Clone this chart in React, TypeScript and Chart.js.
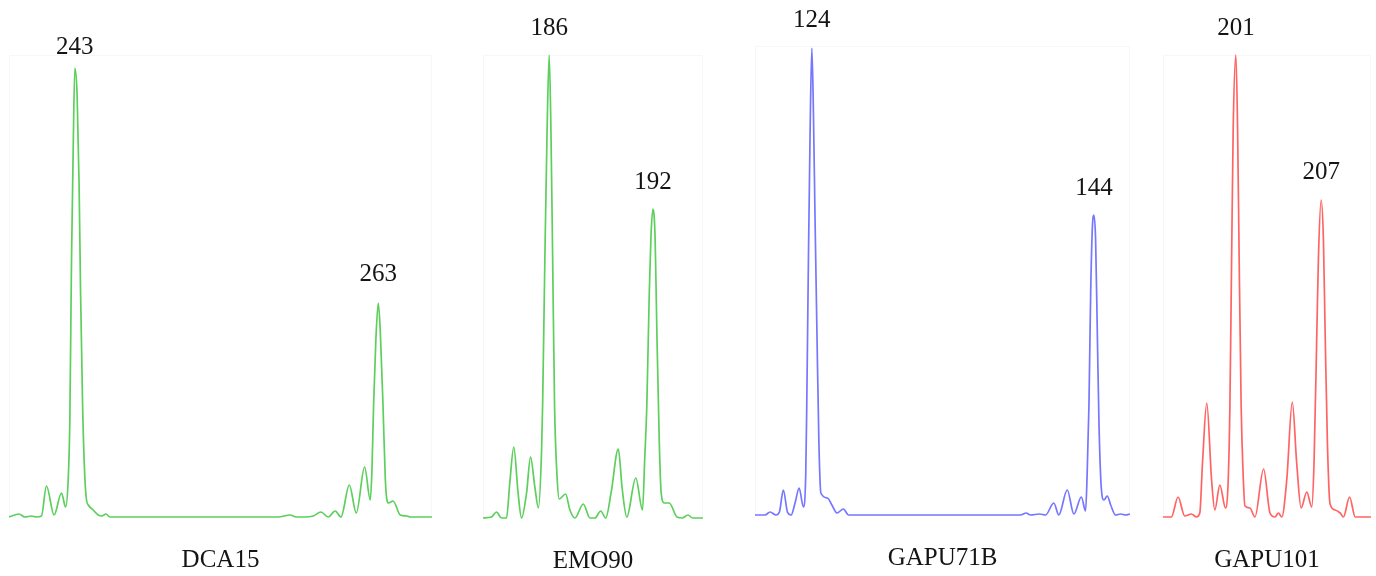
import React, { useEffect, useRef } from "react";
import { Chart, registerables } from "chart.js";

Chart.register(...registerables);

// ---------- data ----------
const markerNames = ["DCA15", "EMO90", "GAPU71B", "GAPU101"];

// DCA15 trace (size in bp, relative signal)
const dca15Size = [
  238.66, 239.32, 239.7, 240.14, 240.47, 240.8, 241.13, 241.63, 242.12, 242.39,
  242.56, 242.67, 242.78, 242.89, 243.0, 243.15, 243.28, 243.38, 243.51, 243.66,
  243.77, 243.89, 244.21, 244.54, 244.78, 245.05, 245.31,
  256.4, 257.19, 257.59, 258.18, 258.71, 259.22, 259.7, 260.16, 260.54,
  261.09, 261.55, 262.1, 262.47, 262.58, 262.69, 262.84, 263.0, 263.13, 263.31,
  263.46, 263.57, 263.68, 263.97, 264.45, 264.89, 265.11, 266.54,
];
const dca15Signal = [
  0, 3, 0, 1, 0, 1, 31, 2, 24, 10,
  37, 97, 257, 367, 449, 422, 332, 222, 112, 39,
  17, 12, 7, 2, 1, 3, 0,
  0, 2, 0, 0, 1, 5, 0, 6, 0,
  32, 4, 50, 17, 46, 112, 177, 214, 186, 112,
  39, 17, 14, 16, 2, 1, 0, 0,
];
const dca15Peaks = [243, 263];

// EMO90 trace
const emo90Size = [
  182.17, 182.66, 182.95, 183.24, 183.53, 183.72, 183.95, 184.2, 184.4, 184.69,
  184.92, 185.17, 185.38, 185.56, 185.62, 185.75, 185.88, 186.0, 186.1, 186.2,
  186.31, 186.46, 186.58, 186.95, 187.2, 187.49, 187.97, 188.36, 188.65, 188.98,
  189.27, 189.58, 190.0, 190.22, 190.49, 191.01, 191.4, 191.53, 191.65, 191.79,
  191.89, 192.0, 192.13, 192.23, 192.37, 192.48, 192.66, 192.95, 193.39, 193.7,
  194.03, 194.3, 194.9,
];
const emo90Signal = [
  0, 1, 6, 0, 0, 35, 71, 25, 0, 25,
  61, 31, 10, 68, 113, 260, 389, 463, 389, 260,
  113, 40, 19, 24, 8, 0, 14, 0, 0, 7,
  0, 25, 69, 30, 1, 40, 8, 60, 113, 224,
  282, 309, 279, 187, 76, 25, 15, 15, 1, 0,
  3, 0, 0,
];
const emo90Peaks = [186, 192];

// GAPU71B trace
const gapu71bSize = [
  119.97, 120.68, 121.04, 121.46, 121.7, 121.98, 122.27, 122.53, 122.81, 123.1,
  123.4, 123.57, 123.64, 123.76, 123.88, 124.0, 124.11, 124.23, 124.36, 124.5,
  124.64, 125.11, 125.42, 125.78, 126.24, 126.6, 138.79, 139.2, 139.5, 140.14,
  140.57, 141.16, 141.51, 142.11, 142.58, 143.11, 143.41, 143.52, 143.65, 143.77,
  143.89, 144.0, 144.12, 144.24, 144.36, 144.53, 144.71, 144.95, 145.19, 145.54,
  145.9, 146.25, 146.56,
];
const gapu71bSignal = [
  0, 0, 3, 0, 3, 25, 3, 0, 12, 27,
  8, 42, 110, 257, 386, 467, 405, 294, 184, 73,
  22, 17, 10, 2, 6, 0, 0, 2, 0, 1,
  0, 12, 0, 25, 1, 18, 4, 40, 110, 221,
  287, 300, 276, 184, 92, 26, 15, 19, 10, 0,
  1, 0, 1,
];
const gapu71bPeaks = [124, 144];

// GAPU101 trace
const gapu101Size = [
  195.87, 196.46, 196.93, 197.4, 197.87, 198.23, 198.46, 198.65, 198.95, 199.29,
  199.52, 199.87, 200.27, 200.46, 200.58, 200.7, 200.81, 201.0, 201.12, 201.23,
  201.37, 201.52, 201.64, 201.99, 202.34, 202.95, 203.4, 203.75, 203.99, 204.23,
  204.58, 204.97, 205.28, 205.59, 205.99, 206.34, 206.5, 206.7, 206.81, 207.0,
  207.16, 207.28, 207.44, 207.63, 207.99, 208.34, 208.57, 209.0, 209.4, 210.51,
];
const gapu101Signal = [
  0, 0, 20, 1, 3, 0, 4, 54, 114, 37,
  7, 32, 9, 37, 112, 259, 388, 462, 388, 259,
  112, 39, 11, 9, 0, 48, 4, 0, 4, 0,
  37, 115, 54, 9, 25, 10, 54, 186, 259, 317,
  278, 186, 75, 13, 7, 4, 0, 20, 0, 0,
];
const gapu101Peaks = [201, 207];

// ---------- layout / style ----------
type PanelCfg = {
  name: string;
  size: number[];
  signal: number[];
  peaks: number[];
  color: string;
  left: number;
  width: number;
  top: number;
  bottom: number;
  yMax: number;
  gaps: number[];
};

const H = 576;

const panels: PanelCfg[] = [
  { name: markerNames[0], size: dca15Size, signal: dca15Signal, peaks: dca15Peaks, color: "#5ccf5c", left: 9, width: 423, top: 55, bottom: 517, yMax: 462, gaps: [14, 22] },
  { name: markerNames[1], size: emo90Size, signal: emo90Signal, peaks: emo90Peaks, color: "#5ccf5c", left: 483, width: 220, top: 55, bottom: 518, yMax: 463, gaps: [20, 20] },
  { name: markerNames[2], size: gapu71bSize, signal: gapu71bSignal, peaks: gapu71bPeaks, color: "#7676ff", left: 755, width: 375, top: 46, bottom: 515, yMax: 469, gaps: [21, 20] },
  { name: markerNames[3], size: gapu101Size, signal: gapu101Signal, peaks: gapu101Peaks, color: "#ff6464", left: 1163, width: 208, top: 55, bottom: 517, yMax: 462, gaps: [20, 21] },
];

const FONT = '25px "Liberation Serif", "Times New Roman", serif';

function Panel({ cfg }: { cfg: PanelCfg }) {
  const ref = useRef<HTMLCanvasElement>(null);

  useEffect(() => {
    const canvas = ref.current;
    if (!canvas) return;

    const decor = {
      id: "decor",
      beforeDatasetsDraw(chart: any) {
        const { ctx, chartArea } = chart;
        ctx.save();
        ctx.strokeStyle = "#f7f7f7";
        ctx.lineWidth = 1;
        ctx.beginPath();
        ctx.moveTo(chartArea.left + 0.5, chartArea.bottom);
        ctx.lineTo(chartArea.left + 0.5, chartArea.top + 0.5);
        ctx.lineTo(chartArea.right - 0.5, chartArea.top + 0.5);
        ctx.lineTo(chartArea.right - 0.5, chartArea.bottom);
        ctx.stroke();
        ctx.restore();
      },
      afterDatasetsDraw(chart: any) {
        const { ctx, chartArea, scales } = chart;
        ctx.save();
        ctx.font = FONT;
        ctx.fillStyle = "#141414";
        ctx.textAlign = "center";
        ctx.textBaseline = "alphabetic";
        cfg.peaks.forEach((p, k) => {
          const idx = cfg.size.indexOf(p);
          const v = idx >= 0 ? cfg.signal[idx] : 0;
          const x = scales.x.getPixelForValue(p);
          const y = scales.y.getPixelForValue(v) - cfg.gaps[k];
          ctx.fillText(String(p), x, y);
        });
        ctx.fillText(cfg.name, (chartArea.left + chartArea.right) / 2, chartArea.bottom + 50);
        ctx.restore();
      },
    };

    const chart = new Chart(canvas, {
      type: "line",
      data: {
        datasets: [
          {
            data: cfg.size.map((s, i) => ({ x: s, y: cfg.signal[i] })),
            borderColor: cfg.color,
            borderWidth: 1.7,
            pointRadius: 0,
            fill: false,
            cubicInterpolationMode: "monotone",
            clip: false as any,
          },
        ],
      },
      options: {
        responsive: false,
        devicePixelRatio: 1,
        animation: false,
        layout: { padding: { top: cfg.top, bottom: H - cfg.bottom, left: 0, right: 0 } },
        plugins: { legend: { display: false }, tooltip: { enabled: false } },
        scales: {
          x: { type: "linear", display: false, min: cfg.size[0], max: cfg.size[cfg.size.length - 1] },
          y: { display: false, min: 0, max: cfg.yMax },
        },
      },
      plugins: [decor],
    });
    return () => chart.destroy();
  }, [cfg]);

  return (
    <canvas
      ref={ref}
      width={cfg.width}
      height={H}
      style={{ position: "absolute", left: cfg.left, top: 0, width: cfg.width, height: H }}
    />
  );
}

export default function App() {
  return (
    <div style={{ position: "fixed", left: 0, top: 0, width: 1376, height: H, background: "#fff", overflow: "hidden" }}>
      {panels.map((p) => (
        <Panel key={p.name} cfg={p} />
      ))}
    </div>
  );
}
